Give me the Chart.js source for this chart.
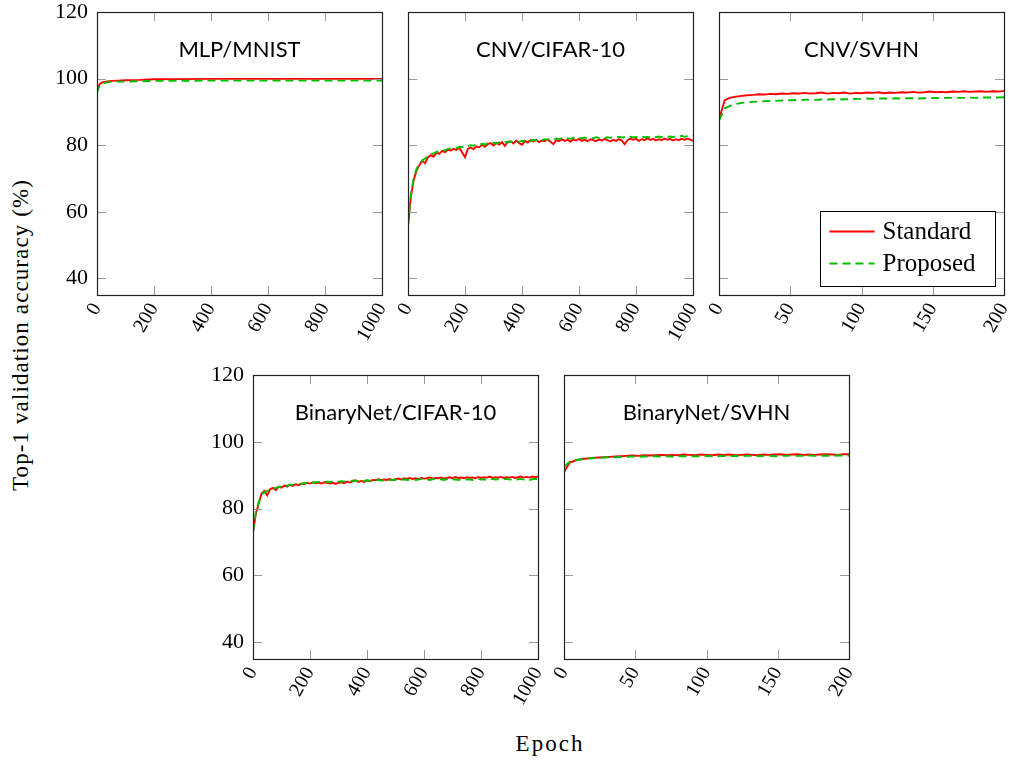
<!DOCTYPE html>
<html>
<head>
<meta charset="utf-8">
<script src="https://cdn.jsdelivr.net/npm/chart.js@4.4.0/dist/chart.umd.min.js"></script>
<style>
  body { margin: 0; width: 1009px; height: 761px; overflow: hidden; position: relative; background: #fff; font-family: 'Liberation Serif', serif; }
  canvas { position: absolute; }
  .ytitle { position: absolute; left: 21px; top: 335px; transform: translate(-50%, -50%) rotate(-90deg); white-space: nowrap; font-size: 23px; letter-spacing: 1.1px; }
  .xtitle { position: absolute; left: 550px; top: 744px; transform: translate(-50%, -50%); white-space: nowrap; font-size: 23px; letter-spacing: 2px; }
</style>
</head>
<body>
<div class="ytitle">Top-1 validation accuracy (%)</div>
<div class="xtitle">Epoch</div>
<script>
// ---- data ----
const yTicks = [40, 60, 80, 100, 120];
const xTicks1000 = [0, 200, 400, 600, 800, 1000];
const xTicks200 = [0, 50, 100, 150, 200];

// MLP/MNIST
const mnistEpochs = [0, 5, 10, 20, 30, 50, 75, 100, 150, 200, 300, 400, 500, 600, 700, 800, 900, 1000];
const mnistStandard = [96.0, 97.6, 98.4, 98.9, 99.1, 99.3, 99.4, 99.5, 99.6, 99.8, 99.85, 99.9, 99.9, 99.9, 99.9, 99.9, 99.9, 99.9];
const mnistProposed = [95.5, 97.0, 97.9, 98.5, 98.8, 99.0, 99.1, 99.1, 99.2, 99.3, 99.35, 99.4, 99.4, 99.4, 99.4, 99.4, 99.4, 99.4];

// 1000-epoch CIFAR-10 runs, sampled every 10 epochs
const cifarEpochs = [
  0, 10, 20, 30, 40, 50, 60, 70, 80, 90,
  100, 110, 120, 130, 140, 150, 160, 170, 180, 190,
  200, 210, 220, 230, 240, 250, 260, 270, 280, 290,
  300, 310, 320, 330, 340, 350, 360, 370, 380, 390,
  400, 410, 420, 430, 440, 450, 460, 470, 480, 490,
  500, 510, 520, 530, 540, 550, 560, 570, 580, 590,
  600, 610, 620, 630, 640, 650, 660, 670, 680, 690,
  700, 710, 720, 730, 740, 750, 760, 770, 780, 790,
  800, 810, 820, 830, 840, 850, 860, 870, 880, 890,
  900, 910, 920, 930, 940, 950, 960, 970, 980, 990,
  1000];

// CNV/CIFAR-10
const cnvCifarStandard = [
  55.8, 64.5, 69.5, 72.4, 74.0, 75.3, 74.6, 76.4, 77.0, 76.5,
  77.8, 77.4, 78.3, 77.9, 78.6, 78.4, 78.9, 78.6, 79.2, 77.8,
  76.4, 78.9, 79.3, 78.8, 79.6, 79.4, 80.1, 79.5, 80.3, 80.6,
  79.9, 80.7, 80.2, 80.9, 79.8, 81.0, 81.2, 80.5, 81.4, 80.6,
  80.1, 81.3, 80.8, 81.5, 81.1, 81.6, 80.9, 81.4, 81.2, 81.7,
  81.0, 80.3, 81.5, 81.2, 81.8, 81.3, 81.6, 81.1, 81.7, 81.4,
  81.9, 81.3, 81.6, 81.2, 81.8, 81.5, 81.2, 81.7, 81.4, 81.9,
  81.5, 81.1, 81.6, 81.3, 81.8, 81.4, 80.3, 81.5, 82.0, 81.6,
  81.9, 81.3, 81.8, 81.5, 82.1, 81.6, 81.9, 81.4, 81.8, 81.5,
  82.0, 81.6, 81.9, 81.4, 81.8, 81.5, 81.9, 81.6, 82.0, 81.7,
  81.3];
const cnvCifarProposed = [
  56.0, 65.2, 70.1, 72.9, 74.4, 75.5, 76.0, 76.7, 77.2, 77.5,
  78.0, 78.2, 78.5, 78.4, 78.9, 79.0, 79.2, 79.1, 79.5, 79.4,
  79.8, 79.7, 80.0, 79.8, 80.2, 80.1, 80.4, 80.2, 80.6, 80.4,
  80.7, 80.5, 80.9, 80.6, 81.0, 80.8, 81.1, 80.9, 81.2, 81.0,
  81.3, 81.1, 81.5, 81.2, 81.6, 81.4, 81.7, 81.5, 81.8, 81.6,
  81.9, 81.7, 82.0, 81.8, 82.1, 81.9, 82.1, 81.9, 82.2, 82.0,
  82.2, 82.0, 82.3, 82.1, 82.3, 82.1, 82.4, 82.2, 82.3, 82.1,
  82.4, 82.2, 82.4, 82.2, 82.5, 82.3, 82.4, 82.2, 82.5, 82.3,
  82.5, 82.3, 82.6, 82.4, 82.5, 82.3, 82.6, 82.4, 82.6, 82.4,
  82.7, 82.5, 82.6, 82.4, 82.7, 82.5, 82.8, 82.5, 82.7, 82.6,
  82.8];

// BinaryNet/CIFAR-10
const bnCifarStandard = [
  72.8, 78.5, 81.5, 84.5, 85.3, 84.0, 85.8, 86.2, 85.5, 86.6,
  86.3, 86.9, 86.6, 87.2, 86.8, 87.3, 87.0, 87.5, 87.4, 87.7,
  87.5, 87.9, 87.6, 87.8, 87.5, 87.9, 87.7, 87.5, 87.8, 87.4,
  87.7, 87.9, 87.6, 88.1, 87.8, 88.2, 88.5, 88.0, 88.3, 88.0,
  88.4, 88.2, 88.6, 88.5, 88.8, 88.5, 88.7, 88.6, 88.9, 88.6,
  88.8, 89.0, 88.7, 89.1, 88.9, 89.2, 88.9, 89.1, 88.8, 89.2,
  89.0, 89.1, 89.3, 89.0, 89.2, 89.1, 89.3, 89.0, 89.2, 89.4,
  89.1, 89.5, 89.2, 89.3, 89.1, 89.4, 89.2, 89.3, 89.1, 89.5,
  89.2, 89.4, 89.3, 89.6, 89.2, 89.4, 89.3, 89.5, 89.2, 89.4,
  89.3, 89.5, 89.2, 89.4, 89.6, 89.3, 89.5, 89.3, 89.6, 89.4,
  89.6];
const bnCifarProposed = [
  73.0, 79.0, 82.0, 84.2, 84.9, 85.3, 85.7, 86.0, 86.2, 86.4,
  86.6, 86.8, 86.9, 87.1, 87.2, 87.3, 87.4, 87.5, 87.6, 87.7,
  87.7, 87.8, 87.9, 88.0, 87.9, 88.0, 88.1, 88.0, 88.1, 88.2,
  88.1, 88.2, 88.1, 88.3, 88.2, 88.4, 88.3, 88.2, 88.4, 88.3,
  88.5, 88.4, 88.3, 88.5, 88.6, 88.4, 88.5, 88.7, 88.5, 88.6,
  88.7, 88.5, 88.6, 88.8, 88.6, 88.7, 88.8, 88.6, 88.7, 88.9,
  88.7, 88.8, 88.6, 88.8, 88.9, 88.7, 88.8, 88.6, 88.8, 88.9,
  88.7, 88.8, 88.6, 88.8, 88.9, 88.7, 88.8, 88.6, 88.8, 88.9,
  88.7, 88.8, 88.6, 88.8, 88.9, 88.7, 88.8, 88.6, 88.8, 88.9,
  88.7, 88.8, 88.6, 88.8, 88.9, 88.7, 88.8, 88.6, 88.8, 88.9,
  88.8];

// 200-epoch SVHN runs, sampled every 4 epochs
const svhnEpochs = [
  0, 4, 8, 12, 16, 20, 24, 28, 32, 36,
  40, 44, 48, 52, 56, 60, 64, 68, 72, 76,
  80, 84, 88, 92, 96, 100, 104, 108, 112, 116,
  120, 124, 128, 132, 136, 140, 144, 148, 152, 156,
  160, 164, 168, 172, 176, 180, 184, 188, 192, 196,
  200];

// CNV/SVHN
const cnvSvhnStandard = [
  87.7, 93.5, 94.3, 94.6, 94.8, 95.0, 95.1, 95.3, 95.2, 95.4,
  95.3, 95.5, 95.4, 95.6, 95.5, 95.7, 95.5, 95.6, 95.8, 95.5,
  95.7, 95.6, 95.8, 95.5, 95.7, 95.6, 95.8, 95.7, 95.9, 95.6,
  95.8, 95.7, 95.9, 95.8, 96.0, 95.8, 95.9, 96.1, 95.9, 96.0,
  95.9, 96.1, 96.0, 96.2, 96.0, 96.1, 96.2, 96.0, 96.2, 96.1,
  96.3];
const cnvSvhnProposed = [
  87.4, 91.0, 91.9, 92.4, 92.7, 92.9, 93.0, 93.1, 93.2, 93.3,
  93.3, 93.4, 93.5, 93.5, 93.6, 93.6, 93.7, 93.6, 93.7, 93.7,
  93.8, 93.7, 93.8, 93.8, 93.9, 93.9, 94.0, 93.9, 94.0, 94.0,
  94.0, 94.1, 94.0, 94.1, 94.1, 94.0, 94.1, 94.1, 94.2, 94.1,
  94.2, 94.2, 94.2, 94.2, 94.3, 94.2, 94.3, 94.3, 94.3, 94.3,
  94.4];

// BinaryNet/SVHN
const bnSvhnStandard = [
  91.0, 93.8, 94.4, 94.8, 95.0, 95.2, 95.3, 95.4, 95.5, 95.6,
  95.7, 95.8, 95.9, 95.8, 96.0, 95.9, 96.0, 96.1, 96.0, 96.1,
  96.0, 96.2, 96.1, 96.0, 96.2, 96.1, 96.0, 96.2, 96.1, 96.2,
  96.0, 96.1, 96.2, 96.1, 96.0, 96.2, 96.1, 96.2, 96.3, 96.1,
  96.2, 96.3, 96.1, 96.2, 96.1, 96.2, 96.3, 96.2, 96.1, 96.3,
  96.3];
const bnSvhnProposed = [
  92.5, 94.0, 94.5, 94.8, 95.0, 95.1, 95.2, 95.3, 95.4, 95.4,
  95.5, 95.5, 95.6, 95.5, 95.6, 95.6, 95.7, 95.6, 95.7, 95.6,
  95.7, 95.7, 95.6, 95.7, 95.7, 95.8, 95.7, 95.7, 95.8, 95.7,
  95.8, 95.7, 95.8, 95.8, 95.7, 95.8, 95.8, 95.7, 95.8, 95.8,
  95.9, 95.8, 95.8, 95.9, 95.8, 95.8, 95.9, 95.8, 95.9, 95.9,
  95.9];

// ---- layout ----
const Y_W = 50, PAD_T = 26, PAD_R = 30, X_H = 80, PLOT_W = 285, TICK = 9;
const RED = '#ff0000', GREEN = '#00c000';

const panels = [
  { title: 'MLP/MNIST', epochs: mnistEpochs, std: mnistStandard, prop: mnistProposed, xMax: 1000, xTicks: xTicks1000, left: 97, top: 12, h: 283, yLabels: true },
  { title: 'CNV/CIFAR-10', epochs: cifarEpochs, std: cnvCifarStandard, prop: cnvCifarProposed, xMax: 1000, xTicks: xTicks1000, left: 408, top: 12, h: 283 },
  { title: 'CNV/SVHN', epochs: svhnEpochs, std: cnvSvhnStandard, prop: cnvSvhnProposed, xMax: 200, xTicks: xTicks200, left: 719, top: 12, h: 283, legend: true },
  { title: 'BinaryNet/CIFAR-10', epochs: cifarEpochs, std: bnCifarStandard, prop: bnCifarProposed, xMax: 1000, xTicks: xTicks1000, left: 253, top: 375, h: 284, yLabels: true },
  { title: 'BinaryNet/SVHN', epochs: svhnEpochs, std: bnSvhnStandard, prop: bnSvhnProposed, xMax: 200, xTicks: xTicks200, left: 564, top: 375, h: 284 }
];

// frame, inward ticks, title and (optionally) legend
const framePlugin = {
  id: 'frame',
  afterDraw(chart, args, opts) {
    const { ctx, chartArea: a, scales: { x, y } } = chart;
    ctx.save();
    ctx.strokeStyle = '#9a9a9a';
    ctx.lineWidth = 1;
    ctx.beginPath();
    x.ticks.forEach(t => {
      const px = Math.round(x.getPixelForValue(t.value)) + 0.5;
      ctx.moveTo(px, a.bottom); ctx.lineTo(px, a.bottom - TICK);
      ctx.moveTo(px, a.top); ctx.lineTo(px, a.top + TICK);
    });
    y.ticks.forEach(t => {
      const py = Math.round(y.getPixelForValue(t.value)) + 0.5;
      ctx.moveTo(a.left, py); ctx.lineTo(a.left + TICK, py);
      ctx.moveTo(a.right, py); ctx.lineTo(a.right - TICK, py);
    });
    ctx.stroke();
    ctx.strokeStyle = '#222';
    ctx.lineWidth = 1.2;
    ctx.strokeRect(Math.round(a.left) + 0.5, Math.round(a.top) + 0.5, Math.round(a.right - a.left), Math.round(a.bottom - a.top));

    ctx.fillStyle = '#000';
    ctx.font = '22px Lato';
    ctx.textAlign = 'center';
    ctx.textBaseline = 'middle';
    ctx.fillText(opts.title, (a.left + a.right) / 2, a.top + 38);

    if (opts.legend) {
      const bw = 175, bh = 75;
      const bx = Math.round(a.right - 9 - bw) + 0.5, by = Math.round(a.bottom - 9 - bh) + 0.5;
      ctx.fillStyle = '#fff';
      ctx.fillRect(bx, by, bw, bh);
      ctx.strokeStyle = '#000';
      ctx.lineWidth = 1;
      ctx.strokeRect(bx, by, bw, bh);
      ctx.font = '25px "Liberation Serif"';
      ctx.textAlign = 'left';
      chart.data.datasets.forEach((ds, i) => {
        const ly = by + 20 + i * 32;
        ctx.strokeStyle = ds.borderColor;
        ctx.lineWidth = ds.borderWidth;
        ctx.setLineDash(ds.borderDash || []);
        ctx.beginPath();
        ctx.moveTo(bx + 9, ly); ctx.lineTo(bx + 54, ly);
        ctx.stroke();
        ctx.setLineDash([]);
        ctx.fillStyle = '#000';
        ctx.fillText(ds.label, bx + 62, ly + 1);
      });
    }
    ctx.restore();
  }
};

function makePanel(p) {
  const cv = document.createElement('canvas');
  cv.width = Y_W + PLOT_W + PAD_R;
  cv.height = PAD_T + p.h + X_H;
  cv.style.left = (p.left - Y_W) + 'px';
  cv.style.top = (p.top - PAD_T) + 'px';
  document.body.appendChild(cv);

  new Chart(cv.getContext('2d'), {
    type: 'line',
    data: {
      datasets: [
        {
          label: 'Standard',
          data: p.epochs.map((e, i) => ({ x: e, y: p.std[i] })),
          borderColor: RED, borderWidth: 1.9, pointRadius: 0, tension: 0, order: 2
        },
        {
          label: 'Proposed',
          data: p.epochs.map((e, i) => ({ x: e, y: p.prop[i] })),
          borderColor: GREEN, borderWidth: 1.9, borderDash: [8, 5], pointRadius: 0, tension: 0, order: 1
        }
      ]
    },
    options: {
      responsive: false,
      animation: false,
      devicePixelRatio: 1,
      layout: { padding: { top: PAD_T, right: PAD_R, left: 0, bottom: 0 } },
      plugins: {
        legend: { display: false },
        tooltip: { enabled: false },
        frame: { title: p.title, legend: !!p.legend }
      },
      scales: {
        x: {
          type: 'linear', min: 0, max: p.xMax,
          afterBuildTicks: s => { s.ticks = p.xTicks.map(v => ({ value: v })); },
          afterFit: s => { s.height = X_H; },
          grid: { display: false, drawTicks: false },
          border: { display: false },
          ticks: { autoSkip: false, maxRotation: 60, minRotation: 60, padding: 4, color: '#000', font: { family: 'Liberation Serif', size: 20 }, callback: v => String(v) }
        },
        y: {
          type: 'linear', min: 35, max: 120,
          afterBuildTicks: s => { s.ticks = yTicks.map(v => ({ value: v })); },
          afterFit: s => { s.width = Y_W; },
          grid: { display: false, drawTicks: false },
          border: { display: false },
          ticks: { display: !!p.yLabels, padding: 9, color: '#000', font: { family: 'Liberation Serif', size: 22 } }
        }
      }
    },
    plugins: [framePlugin]
  });
}

panels.forEach(makePanel);
</script>
</body>
</html>
